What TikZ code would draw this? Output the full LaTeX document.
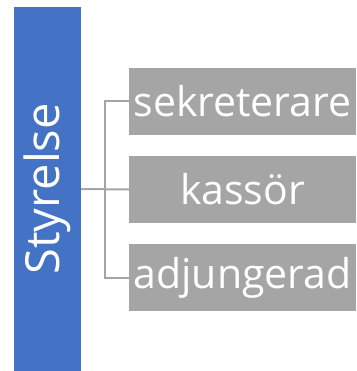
\documentclass[tikz,border=0pt]{standalone}
\usepackage{fontspec}
\setmainfont{Open Sans}
\usepackage{tikz}
\usetikzlibrary{shapes, arrows}
\definecolor{styrblue}{HTML}{4472C4}
\definecolor{rollgray}{HTML}{A5A5A5}

\begin{document}
\begin{tikzpicture}[x=1pt, y=-1pt,
    roll/.style={fill=rollgray, text=white, inner sep=0pt,
        minimum width=227pt, minimum height=67pt,
        font=\fontsize{41}{45}\selectfont},
    conn/.style={draw=rollgray, line width=2pt}]
        \useasboundingbox (0,0) rectangle (356,371);

        % Styrelse box
        \node[fill=styrblue, text=white, inner sep=0pt, rotate=90,
            minimum width=364pt, minimum height=67.5pt,
            font=\fontsize{47}{50}\selectfont] (styrelse) at (47.25,189) {Styrelse};

        % Roles
        \node[roll] (sek) at (242.5,101.5) {sekreterare};
        \node[roll] (kassor) at (242.5,189.5) {kassör};
        \node[roll] (adj) at (242.5,277.5) {adjungerad};

        % Lines
        \coordinate (trunk) at (105,189.5);
        \draw[conn] (styrelse.south) -- (kassor.west);
        \draw[conn] (sek.west) -| (trunk) |- (adj.west);
    \end{tikzpicture}
\end{document}
